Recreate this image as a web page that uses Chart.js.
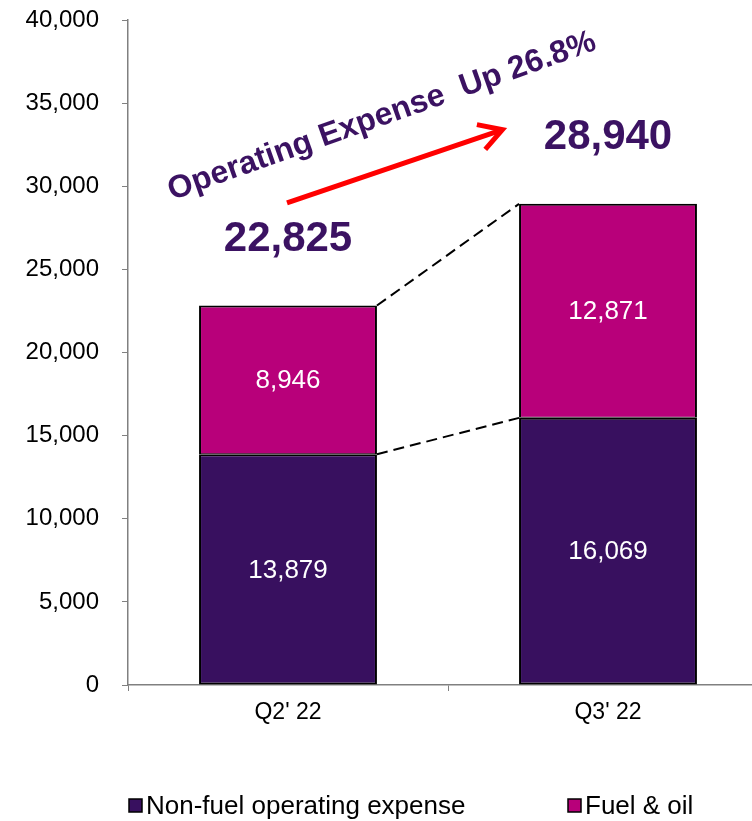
<!DOCTYPE html>
<html>
<head>
<meta charset="utf-8">
<script src="https://cdn.jsdelivr.net/npm/chart.js@4.4.0/dist/chart.umd.min.js"></script>
<style>
html,body{margin:0;padding:0;overflow:hidden;background:#fff;width:752px;height:821px}
#wrap{position:relative;width:768px;height:821px}
</style>
</head>
<body>
<div id="wrap"><canvas id="c"></canvas></div>
<script>
// ---- data ----
const categories = ["Q2' 22", "Q3' 22"];
const seriesNames = ["Non-fuel operating expense", "Fuel & oil"];
const nonFuelExpense = [13879, 16069];
const fuelAndOil = [8946, 12871];
const yTickMin = 0;
const yTickMax = 40000;
const yTickStep = 5000;
const headlinePrefix = "Operating Expense  Up ";

// ---- styles ----
const PURPLE = '#38105F';
const MAGENTA = '#B8007A';
const TEXT_PURPLE = '#3B1262';
const AXIS_GRAY = '#808080';
const FONT = "'Liberation Sans', Arial, Helvetica, sans-serif";

const totals = categories.map((_, i) => nonFuelExpense[i] + fuelAndOil[i]);
const pctUp = ((totals[1] / totals[0] - 1) * 100).toFixed(1);
const headline = headlinePrefix + pctUp + '%';
const fmt = v => Number(v).toLocaleString('en-US');

Chart.defaults.font.family = FONT;

const overlay = {
  id: 'overlay',
  afterDatasetsDraw(chart) {
    const ctx = chart.ctx;
    const xs = chart.scales.x, ys = chart.scales.y;
    const m0 = chart.getDatasetMeta(0), m1 = chart.getDatasetMeta(1);

    // dashed connector lines between bars
    ctx.save();
    ctx.strokeStyle = '#000';
    ctx.lineWidth = 2;
    ctx.setLineDash([11, 6]);
    [m0, m1].forEach(meta => {
      const a = meta.data[0], b = meta.data[1];
      ctx.beginPath();
      ctx.moveTo(a.x + a.width / 2, a.y);
      ctx.lineTo(b.x - b.width / 2, b.y);
      ctx.stroke();
    });
    ctx.restore();

    // segment value labels
    ctx.save();
    ctx.fillStyle = '#fff';
    ctx.font = '26px ' + FONT;
    ctx.textAlign = 'center';
    ctx.textBaseline = 'middle';
    chart.data.datasets.forEach((ds, di) => {
      const meta = chart.getDatasetMeta(di);
      meta.data.forEach((bar, i) => {
        ctx.fillText(fmt(ds.data[i]), bar.x, (bar.y + bar.base) / 2 + 1);
      });
    });
    ctx.restore();

    // totals above bars
    ctx.save();
    ctx.fillStyle = TEXT_PURPLE;
    ctx.font = 'bold 42px ' + FONT;
    ctx.textAlign = 'center';
    ctx.textBaseline = 'middle';
    totals.forEach((t, i) => {
      const bx = m1.data[i].x;
      ctx.fillText(fmt(t), bx, ys.getPixelForValue(t) - 66);
    });
    ctx.restore();

    // red arrow
    const x0 = xs.getPixelForValue(0), x1 = xs.getPixelForValue(1);
    const sx = x0 - 1, sy = ys.getPixelForValue(29000);
    const ex = x0 + 0.67 * (x1 - x0), ey = ys.getPixelForValue(33400);
    const ang = Math.atan2(ey - sy, ex - sx);
    ctx.save();
    ctx.strokeStyle = '#FF0000';
    ctx.lineWidth = 5;
    ctx.beginPath();
    ctx.moveTo(sx, sy);
    ctx.lineTo(ex - 2 * Math.cos(ang), ey - 2 * Math.sin(ang));
    ctx.stroke();
    ctx.lineJoin = 'miter';
    ctx.beginPath();
    const L = 26, spread = 30 * Math.PI / 180;
    ctx.moveTo(ex - L * Math.cos(ang - spread), ey - L * Math.sin(ang - spread));
    ctx.lineTo(ex, ey);
    ctx.lineTo(ex - L * Math.cos(ang + spread), ey - L * Math.sin(ang + spread));
    ctx.stroke();
    ctx.restore();

    // rotated headline
    ctx.save();
    ctx.fillStyle = TEXT_PURPLE;
    ctx.font = 'bold 32px ' + FONT;
    ctx.textAlign = 'center';
    ctx.textBaseline = 'alphabetic';
    ctx.translate(x0 + 0.303 * (x1 - x0), ys.getPixelForValue(33700));
    ctx.rotate(-19.5 * Math.PI / 180);
    ctx.fillText(headline, 0, 0);
    ctx.restore();

    // legend
    ctx.save();
    ctx.font = '26px ' + FONT;
    ctx.textBaseline = 'middle';
    ctx.textAlign = 'left';
    const legendY = 806;
    const items = [{ x: 129, c: PURPLE }, { x: 568, c: MAGENTA }];
    items.forEach((it, i) => {
      ctx.fillStyle = it.c;
      ctx.fillRect(it.x, legendY - 7, 13, 13);
      ctx.strokeStyle = '#000';
      ctx.lineWidth = 1.5;
      ctx.strokeRect(it.x, legendY - 7, 13, 13);
      ctx.fillStyle = '#000';
      ctx.fillText(chart.data.datasets[i].label, it.x + 17, legendY + 1);
    });
    ctx.restore();
  }
};

new Chart(document.getElementById('c'), {
  type: 'bar',
  data: {
    labels: categories,
    datasets: [
      { label: seriesNames[0], data: nonFuelExpense, backgroundColor: PURPLE, borderColor: '#000',
        borderWidth: { top: 2, left: 2, right: 2, bottom: 2 }, borderSkipped: false, categoryPercentage: 1, barPercentage: 0.556 },
      { label: seriesNames[1], data: fuelAndOil, backgroundColor: MAGENTA, borderColor: '#000',
        borderWidth: { top: 2, left: 2, right: 2, bottom: 1 }, borderSkipped: false, categoryPercentage: 1, barPercentage: 0.556 }
    ]
  },
  options: {
    responsive: true,
    maintainAspectRatio: false,
    animation: false,
    devicePixelRatio: 1,
    layout: { padding: { top: 20, left: 0, right: 0, bottom: 86 } },
    plugins: { legend: { display: false }, tooltip: { enabled: false } },
    scales: {
      x: {
        stacked: true,
        grid: { display: true, drawOnChartArea: false, drawTicks: true, tickLength: 6, color: AXIS_GRAY, offset: true },
        border: { display: true, color: AXIS_GRAY, width: 1.5 },
        ticks: { color: '#000', font: { size: 23 }, padding: 8 },
        afterFit: s => { s.height = 50; s.paddingLeft = 0; s.paddingRight = 0; }
      },
      y: {
        stacked: true,
        min: yTickMin,
        max: yTickMax,
        grid: { display: true, drawOnChartArea: false, drawTicks: true, tickLength: 6, color: AXIS_GRAY },
        border: { display: true, color: AXIS_GRAY, width: 1.5 },
        ticks: { stepSize: yTickStep, color: '#000', font: { size: 24 }, padding: 23, callback: v => fmt(v) },
        afterFit: s => { s.width = 128; s.paddingTop = 0; s.paddingBottom = 0; }
      }
    }
  },
  plugins: [overlay]
});
</script>
</body>
</html>
